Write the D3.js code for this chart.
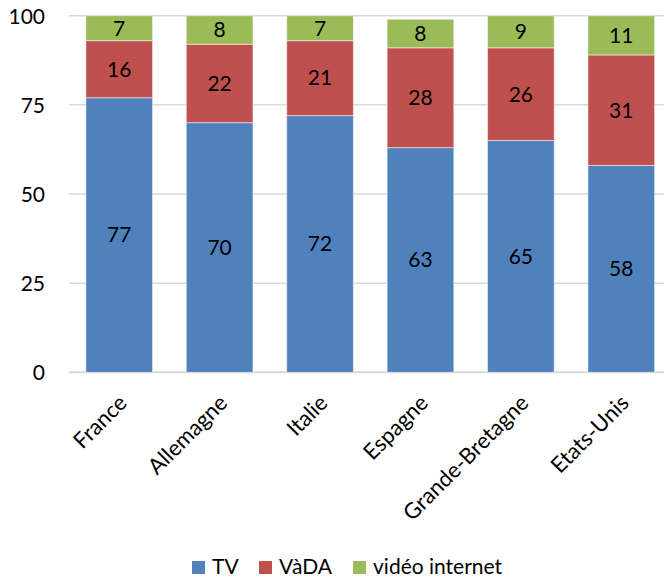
<!DOCTYPE html>
<html>
<head>
<meta charset="utf-8">
<script src="https://cdn.jsdelivr.net/npm/d3@7"></script>
<style>
  html, body { margin: 0; padding: 0; background: #fff; }
  svg { display: block; font-family: Lato, "Open Sans", "Noto Sans", sans-serif; }
</style>
</head>
<body>
<svg id="chart" width="664" height="577"></svg>
<script>
// Parts of video viewing time by channel, per country (%)
const countries = ["France", "Allemagne", "Italie", "Espagne", "Grande-Bretagne", "Etats-Unis"];
const tv       = [77, 70, 72, 63, 65, 58];
const vada     = [16, 22, 21, 28, 26, 31];
const internet = [7, 8, 7, 8, 9, 11];
const seriesNames = ["TV", "VàDA", "vidéo internet"];
const seriesColors = ["#4F81BD", "#C0504D", "#9BBB59"];
const yTicks = [0, 25, 50, 75, 100];

const rows = countries.map((c, i) => ({ country: c, TV: tv[i], "VàDA": vada[i], "vidéo internet": internet[i] }));
const stacked = d3.stack().keys(seriesNames)(rows);

const svg = d3.select("#chart");
const plotLeft = 69, plotRight = 671.5, plotTop = 15.7, plotBottom = 372.3;
const fontSize = 21;

const x = d3.scaleBand().domain(countries).range([plotLeft, plotRight]).paddingInner(0.336).paddingOuter(0.168);
const y = d3.scaleLinear().domain([0, 100]).range([plotBottom, plotTop]);

// horizontal gridlines
svg.append("g").selectAll("line").data(yTicks).join("line")
  .attr("x1", plotLeft).attr("x2", 664)
  .attr("y1", d => y(d)).attr("y2", d => y(d))
  .attr("stroke", "#D9D9D9")
  .attr("stroke-width", d => d === 0 ? 2 : 1.5);

// y axis labels
const yAxis = svg.append("g").attr("transform", `translate(${plotLeft - 24},0)`)
  .call(d3.axisLeft(y).tickValues(yTicks).tickSize(0).tickPadding(0));
yAxis.select(".domain").remove();
yAxis.selectAll("text").attr("font-size", fontSize).attr("fill", "#000")
  .attr("font-family", "Lato, 'Open Sans', sans-serif").attr("dy", "0.35em");

// stacked bars
const layers = svg.append("g").selectAll("g").data(stacked).join("g")
  .attr("fill", (d, i) => seriesColors[i]);
layers.selectAll("rect").data(d => d).join("rect")
  .attr("x", d => x(d.data.country))
  .attr("width", x.bandwidth())
  .attr("y", d => y(d[1]))
  .attr("height", d => y(d[0]) - y(d[1]))
  .attr("stroke", "rgba(255,255,255,0.5)")
  .attr("stroke-width", 1);

// value labels centred in each segment
svg.append("g").selectAll("g").data(stacked).join("g")
  .selectAll("text").data(d => d.map(v => ({ v, key: d.key }))).join("text")
  .attr("x", d => x(d.v.data.country) + x.bandwidth() / 2)
  .attr("y", d => (y(d.v[0]) + y(d.v[1])) / 2)
  .attr("dy", "0.35em")
  .attr("text-anchor", "middle")
  .attr("font-size", fontSize)
  .attr("fill", "#000")
  .text(d => d.v.data[d.key]);

// rotated category labels
svg.append("g").selectAll("text").data(countries).join("text")
  .attr("transform", d => `translate(${x(d) + x.bandwidth() / 2 + 9},${plotBottom + 32}) rotate(-45)`)
  .attr("text-anchor", "end")
  .attr("font-size", 22)
  .attr("fill", "#000")
  .text(d => d);

// legend
const legendX = [192, 259, 353];
const legend = svg.append("g").selectAll("g").data(seriesNames).join("g")
  .attr("transform", (d, i) => `translate(${legendX[i]},561)`);
legend.append("rect").attr("width", 13).attr("height", 13).attr("fill", (d, i) => seriesColors[i]);
legend.append("text").attr("x", 20).attr("y", 13)
  .attr("font-size", fontSize).attr("fill", "#000").text(d => d);
</script>
</body>
</html>
